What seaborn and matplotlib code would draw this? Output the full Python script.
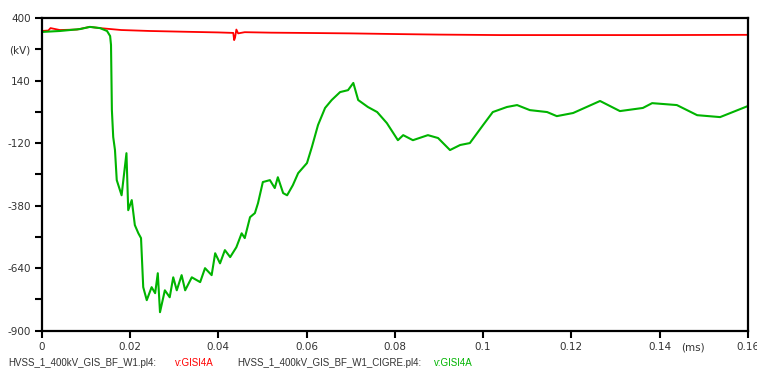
import numpy as np
import pandas as pd
import seaborn as sns
import matplotlib.pyplot as plt

# ---------------------------------------------------------
# Daten
# ---------------------------------------------------------

t_red = [0.0, 0.0015, 0.0020, 0.0041, 0.0080, 0.0109, 0.0132, 0.0180, 0.0245,
         0.0320, 0.0400, 0.0434, 0.0436, 0.0438, 0.0441, 0.0445, 0.0460,
         0.0520, 0.0585, 0.0700, 0.0811, 0.0900, 0.1038, 0.1200, 0.1400, 0.1600]
v_red = [346, 348, 358, 350, 352, 363, 358, 350, 346,
         343, 340, 338, 308, 318, 352, 336, 341,
         339, 338, 336, 333, 331, 329, 329, 329, 330]

t_green = [0.0, 0.0041, 0.0087, 0.0109, 0.0132, 0.0148, 0.0155, 0.0157, 0.0159,
           0.0162, 0.0166, 0.0170, 0.0181, 0.0192, 0.0196, 0.0204, 0.0211,
           0.0219, 0.0225, 0.0230, 0.0238, 0.0249, 0.0257, 0.0263, 0.0268,
           0.0279, 0.0290, 0.0298, 0.0306, 0.0317, 0.0325, 0.0340, 0.0359,
           0.0370, 0.0385, 0.0393, 0.0404, 0.0415, 0.0427, 0.0441, 0.0453,
           0.0460, 0.0472, 0.0483, 0.0490, 0.0501, 0.0517, 0.0528, 0.0535,
           0.0547, 0.0556, 0.0569, 0.0581, 0.0601, 0.0612, 0.0626, 0.0642,
           0.0657, 0.0676, 0.0694, 0.0706, 0.0717, 0.0739, 0.0760,
           0.0782, 0.0807, 0.0819, 0.0841, 0.0875, 0.0898, 0.0925, 0.0948,
           0.0970, 0.1000, 0.1022, 0.1054, 0.1077, 0.1106, 0.1145, 0.1167,
           0.1204, 0.1265, 0.1310, 0.1362, 0.1383, 0.1439, 0.1485, 0.1537,
           0.1600]
v_green = [342, 346, 354, 363, 358, 346, 325, 288, 17,
           -95, -149, -274, -337, -162, -399, -357, -461,
           -495, -515, -719, -773, -719, -744, -661, -823,
           -732, -761, -678, -732, -669, -732, -678, -698,
           -640, -669, -578, -620, -565, -594, -553, -495,
           -515, -428, -411, -370, -282, -274, -307, -262,
           -328, -337, -295, -245, -203, -137, -45, 26,
           59, 92, 100, 130, 59, 30, 9,
           -37, -108, -87, -108, -87, -99, -149, -128,
           -120, -45, 9, 30, 38, 17, 9, -8,
           5, 55, 13, 26, 46, 38, -4, -12,
           34]

y_ticks = [400, 270, 140, 10, -120, -250, -380, -510, -640, -770, -900]
y_labels = ["400", "(kV)", "140", "", "-120", "", "-380", "", "-640", "", "-900"]
x_ticks = [0, 0.02, 0.04, 0.06, 0.08, 0.1, 0.12, 0.14, 0.16]
x_labels = ["0", "0.02", "0.04", "0.06", "0.08", "0.1", "0.12", "0.14", "0.16"]

df_red = pd.DataFrame({"t": t_red, "v": v_red})
df_green = pd.DataFrame({"t": t_green, "v": v_green})

# ---------------------------------------------------------
# Plot
# ---------------------------------------------------------

sns.set_style("ticks")
plt.rcParams["font.family"] = ["DejaVu Sans"]

fig = plt.figure(figsize=(7.57, 3.71), dpi=100)
ax = fig.add_axes([0.0551, 0.1086, 0.9329, 0.8429])

sns.lineplot(data=df_red, x="t", y="v", color="#ff0000", linewidth=1.3, ax=ax)
sns.lineplot(data=df_green, x="t", y="v", color="#00b400", linewidth=1.5, ax=ax)

ax.set_xlim(0, 0.16)
ax.set_ylim(-900, 400)
ax.set_xticks(x_ticks)
ax.set_xticklabels(x_labels)
ax.set_yticks(y_ticks)
ax.set_yticklabels(y_labels)
ax.set_xlabel("")
ax.set_ylabel("")
ax.tick_params(axis="both", labelsize=7.5, length=5, width=1.5, color="black",
               labelcolor="#333333", pad=3)

for side in ["left", "right", "top", "bottom"]:
    ax.spines[side].set_visible(True)
    ax.spines[side].set_color("black")
    ax.spines[side].set_linewidth(1.6)

ax.text(0.1475, -950, "(ms)", fontsize=7.5, color="#333333", ha="center", va="top")

# Legende unten
leg_font = ["Liberation Sans", "DejaVu Sans"]
fig.text(0.011, 0.014, "HVSS_1_400kV_GIS_BF_W1.pl4:", fontsize=7,
         color="#333333", family=leg_font)
fig.text(0.231, 0.014, "v:GISI4A", fontsize=7, color="#ff0000", family=leg_font)
fig.text(0.313, 0.014, "HVSS_1_400kV_GIS_BF_W1_CIGRE.pl4:", fontsize=7,
         color="#333333", family=leg_font)
fig.text(0.573, 0.014, "v:GISI4A", fontsize=7, color="#00b400", family=leg_font)

fig.savefig("out.png", dpi=100)
